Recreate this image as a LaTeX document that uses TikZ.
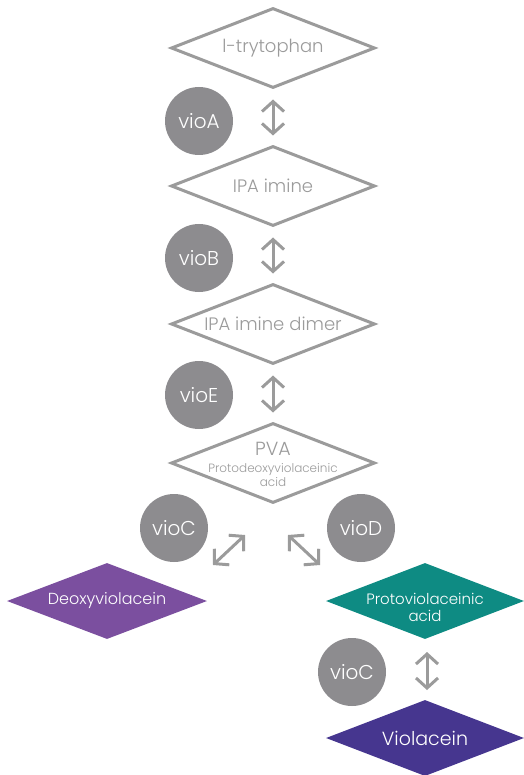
\documentclass[tikz,border=0pt]{standalone}
\usepackage{fontspec}
\setmainfont{Poppins Light}
\usetikzlibrary{shapes.geometric,arrows.meta}
\definecolor{lgrey}{HTML}{9B9B9B}
\definecolor{cgrey}{HTML}{8D8C8F}
\definecolor{dviol}{HTML}{7B4F9F}
\definecolor{pteal}{HTML}{0E8B83}
\definecolor{violc}{HTML}{46368F}
\tikzset{
  wdia/.style={diamond, draw=lgrey, line width=3pt, fill=white, text=lgrey,
    minimum width=204pt, minimum height=80pt, inner sep=0pt, aspect=2.5,
    font=\fontsize{18}{20}\selectfont, align=center},
  inlbl/.style={text=lgrey, align=center, inner sep=0pt},
  cdia/.style={diamond, minimum width=198pt, minimum height=76pt, inner sep=0pt,
    aspect=2.5, text=white, font=\fontsize{16}{17}\selectfont, align=center},
  enz/.style={circle, fill=cgrey, minimum size=68pt, inner sep=0pt, text=white,
    font=\fontsize{20}{22}\selectfont},
  rxn/.style={draw=lgrey, line width=3pt,
    {Straight Barb[length=10pt,width=22pt]}-{Straight Barb[length=10pt,width=22pt]}}
}
\begin{document}
\begin{tikzpicture}[x=1pt,y=-1pt]
\useasboundingbox (0,0) rectangle (523,775);
\node[wdia] (d1) at (273,48) {l-trytophan};
\node[wdia] (d2) at (273,186) {IPA imine};
\node[wdia] (d3) at (273,324) {IPA imine dimer};
\node[wdia, label={[inlbl, font=\fontsize{12}{14}\selectfont, yshift=-1pt]center:{\fontsize{19}{19}\selectfont PVA}\\[3pt]Protodeoxyviolaceinic\\acid}] (d4) at (273,463) {};
\node[enz] (c1) at (199,121) {vioA};
\node[enz] (c2) at (199,258) {vioB};
\node[enz] (c3) at (199,395) {vioE};
\node[enz] (c4) at (174,528) {vioC};
\node[enz] (c5) at (361,528) {vioD};
\node[enz] (c6) at (352,672) {vioC};
\node[cdia, fill=dviol, minimum width=200pt] (d5) at (107,601) {Deoxyviolacein};
\node[cdia, fill=pteal, label={[inlbl, text=white, font=\fontsize{15}{17}\selectfont, yshift=-6pt]center:Protoviolaceinic\\acid}] (d6) at (425,601) {};
\node[cdia, fill=violc, font=\fontsize{19}{21}\selectfont] (d7) at (425,738) {Violacein};
\draw[rxn, shorten <=10pt, shorten >=9pt] (d1.south) -- (d2.north);
\draw[rxn, shorten <=10pt, shorten >=9pt] (d2.south) -- (d3.north);
\draw[rxn, shorten <=10pt, shorten >=9pt] (d3.south) -- (d4.north);
\coordinate (l1) at (213,565);
\coordinate (l2) at (245,535);
\coordinate (r1) at (288,535);
\coordinate (r2) at (320,565);
\draw[rxn] (l1) -- (l2);
\draw[rxn] (r1) -- (r2);
\coordinate (v1) at (427,652);
\coordinate (v2) at (427,690);
\draw[rxn] (v1) -- (v2);
\end{tikzpicture}
\end{document}
